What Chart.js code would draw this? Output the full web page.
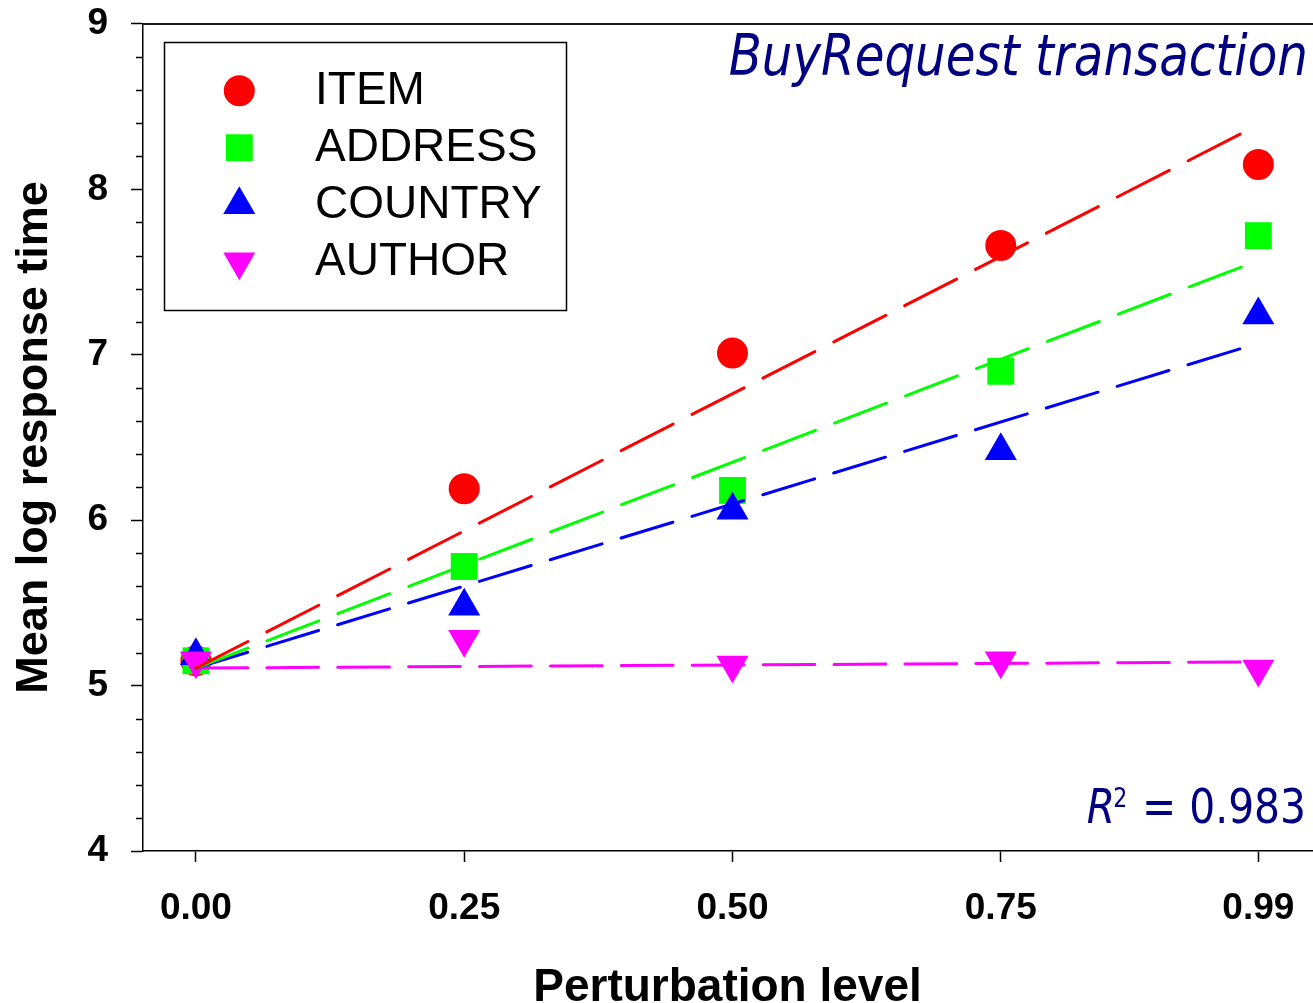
<!DOCTYPE html>
<html>
<head>
<meta charset="utf-8">
<script src="https://cdn.jsdelivr.net/npm/chart.js@4.4.1/dist/chart.umd.min.js"></script>
<style>
  html, body { margin: 0; padding: 0; background: #fff; width: 1313px; height: 1003px; overflow: hidden; }
  #wrap { position: relative; width: 1331px; height: 1016px; }
</style>
</head>
<body>
<div id="wrap"><canvas id="chart"></canvas></div>
<script>
// Perturbation levels and their axis labels
const perturbation = [0, 0.25, 0.50, 0.75, 0.99];
const tickLabels = ['0.00', '0.25', '0.50', '0.75', '0.99'];
const seriesNames = ['ITEM', 'ADDRESS', 'COUNTRY', 'AUTHOR'];

// Mean log response time per perturbed field
const itemTime    = [5.15, 6.19, 7.01, 7.66, 8.15];
const addressTime = [5.15, 5.72, 6.18, 6.90, 7.72];
const countryTime = [5.18, 5.48, 6.06, 6.42, 7.24];
const authorTime  = [5.15, 5.28, 5.125, 5.15, 5.10];

// Fitted lines: value at the first and last perturbation level
const fitLevels  = [0, 0.99];
const itemFit    = [5.106, 8.39];
const addressFit = [5.106, 7.57];
const countryFit = [5.106, 7.07];
const authorFit  = [5.106, 5.143];

const TITLE_TEXT = 'BuyRequest transaction';
const R2_VALUE = '0.983';

const RED = '#ff0000', GREEN = '#00ff00', BLUE = '#0000ff', MAGENTA = '#ff00ff', NAVY = '#000080';
const SANS = "'Liberation Sans', Arial, Helvetica, sans-serif";

const toPoints = (xs, ys) => xs.map((x, i) => ({ x: x, y: ys[i] }));

const markers = [
  { label: seriesNames[0], values: itemTime,    color: RED,     style: 'circle',   radius: 15.5, rotation: 0,   order: 4 },
  { label: seriesNames[1], values: addressTime, color: GREEN,   style: 'rect',     radius: 19,   rotation: 0,   order: 3 },
  { label: seriesNames[2], values: countryTime, color: BLUE,    style: 'triangle', radius: 18.5, rotation: 0,   order: 2 },
  { label: seriesNames[3], values: authorTime,  color: MAGENTA, style: 'triangle', radius: 18.5, rotation: 180, order: 1 }
];
const fits = [
  { values: itemFit,    color: RED,     dash: [58.4, 21.2] },
  { values: addressFit, color: GREEN,   dash: [55.6, 20.4] },
  { values: countryFit, color: BLUE,    dash: [54.2, 19.9] },
  { values: authorFit,  color: MAGENTA, dash: [51.7, 19.2] }
];

const datasets = [];
markers.forEach(m => {
  datasets.push({
    label: m.label,
    data: toPoints(perturbation, m.values),
    showLine: false,
    pointStyle: m.style,
    pointRotation: m.rotation,
    pointRadius: m.radius,
    pointHoverRadius: m.radius,
    pointBackgroundColor: m.color,
    pointBorderColor: m.color,
    pointBorderWidth: 0,
    order: m.order
  });
});
fits.forEach(f => {
  datasets.push({
    label: '',
    data: toPoints(fitLevels, f.values),
    showLine: true,
    fill: false,
    pointRadius: 0,
    pointHoverRadius: 0,
    borderColor: f.color,
    borderWidth: 3,
    borderDash: f.dash,
    borderCapStyle: 'round',
    order: 0
  });
});

function drawMarker(ctx, m, x, y) {
  ctx.save();
  ctx.fillStyle = m.color;
  Chart.helpers.drawPoint(ctx, { pointStyle: m.style, rotation: m.rotation, radius: m.radius, borderWidth: 0 }, x, y);
  ctx.restore();
}

const decorations = {
  id: 'decorations',
  afterDraw(chart) {
    const ctx = chart.ctx;
    const area = chart.chartArea;
    const ys = chart.scales.y;

    // top frame line
    ctx.save();
    ctx.strokeStyle = '#1a1a1a';
    ctx.lineWidth = 2;
    ctx.beginPath();
    ctx.moveTo(area.left, area.top);
    ctx.lineTo(area.right + 20, area.top);
    ctx.stroke();

    // minor ticks on the y axis every 0.2
    ctx.strokeStyle = '#000';
    ctx.lineWidth = 1.5;
    for (let k = 0; k <= (ys.max - ys.min) * 5; k++) {
      if (k % 5 === 0) continue;
      const py = Math.round(ys.getPixelForValue(ys.min + k * 0.2)) + 0.5;
      ctx.beginPath();
      ctx.moveTo(area.left - 7, py);
      ctx.lineTo(area.left, py);
      ctx.stroke();
    }
    ctx.restore();

    // legend box
    ctx.save();
    ctx.strokeStyle = '#000';
    ctx.lineWidth = 1.5;
    ctx.strokeRect(164.5, 42.5, 402, 268);
    ctx.font = '46px ' + SANS;
    ctx.fillStyle = '#000';
    ctx.textBaseline = 'middle';
    ctx.textAlign = 'left';
    markers.forEach((m, i) => {
      const cy = 90.7 + i * 57;
      drawMarker(ctx, m, 239.3, cy);
      ctx.fillText(m.label, 315, cy + 1);
    });
    ctx.restore();

    // transaction title
    ctx.save();
    ctx.fillStyle = NAVY;
    ctx.font = 'oblique 57px "DejaVu Sans", sans-serif';
    ctx.textBaseline = 'alphabetic';
    ctx.textAlign = 'right';
    ctx.translate(1308, 75);
    ctx.scale(0.848, 1);
    ctx.fillText(TITLE_TEXT, 0, 0);
    ctx.restore();

    // R squared annotation
    ctx.save();
    ctx.fillStyle = NAVY;
    ctx.textBaseline = 'alphabetic';
    ctx.textAlign = 'left';
    ctx.translate(1306, 823);
    ctx.scale(0.85, 1);
    const fR = 'oblique 48px "DejaVu Sans", sans-serif';
    const fSup = '26px "DejaVu Sans", sans-serif';
    const fRest = '48px "DejaVu Sans", sans-serif';
    const rest = ' = ' + R2_VALUE;
    ctx.font = fR; const wR = ctx.measureText('R').width;
    ctx.font = fSup; const wS = ctx.measureText('2').width;
    ctx.font = fRest; const wRest = ctx.measureText(rest).width;
    let x0 = -(wR + wS + wRest);
    ctx.font = fR; ctx.fillText('R', x0, 0); x0 += wR - 2;
    ctx.font = fSup; ctx.fillText('2', x0, -16); x0 += wS + 2;
    ctx.font = fRest; ctx.fillText(rest, x0, 0);
    ctx.restore();
  }
};

new Chart(document.getElementById('chart'), {
  type: 'scatter',
  data: { datasets: datasets },
  options: {
    responsive: true,
    maintainAspectRatio: false,
    devicePixelRatio: 1,
    animation: false,
    events: [],
    layout: { padding: { left: 0, right: 0, top: 0, bottom: 0 } },
    plugins: {
      legend: { display: false },
      tooltip: { enabled: false },
      title: { display: false }
    },
    scales: {
      x: {
        type: 'linear',
        min: -0.0493,
        max: 1.040,
        afterBuildTicks: (scale) => { scale.ticks = perturbation.map(v => ({ value: v })); },
        afterFit: (scale) => { scale.height = 165; },
        ticks: {
          autoSkip: false,
          maxRotation: 0,
          padding: 25,
          color: '#000',
          font: { family: SANS, size: 37, weight: 'bold' },
          callback: (v, i) => tickLabels[i]
        },
        grid: { drawOnChartArea: false, drawTicks: true, tickLength: 11, tickWidth: 1.5, tickColor: '#000' },
        border: { display: true, color: '#000', width: 1.5 },
        title: {
          display: true,
          text: 'Perturbation level',
          color: '#000',
          font: { family: SANS, size: 46, weight: 'bold', lineHeight: 1.2 },
          padding: { top: 0, bottom: 0 }
        }
      },
      y: {
        type: 'linear',
        min: 4,
        max: 9,
        afterFit: (scale) => { scale.width = 143; },
        ticks: {
          stepSize: 1,
          padding: 23,
          color: '#000',
          font: { family: SANS, size: 37, weight: 'bold', lineHeight: 0.05 }
        },
        grid: { drawOnChartArea: false, drawTicks: true, tickLength: 12, tickWidth: 1.5, tickColor: '#000' },
        border: { display: true, color: '#000', width: 1.5 },
        title: {
          display: true,
          text: 'Mean log response time',
          color: '#000',
          font: { family: SANS, size: 45, weight: 'bold', lineHeight: 1.2 },
          padding: { top: 8, bottom: 0 }
        }
      }
    }
  },
  plugins: [decorations]
});
</script>
</body>
</html>
